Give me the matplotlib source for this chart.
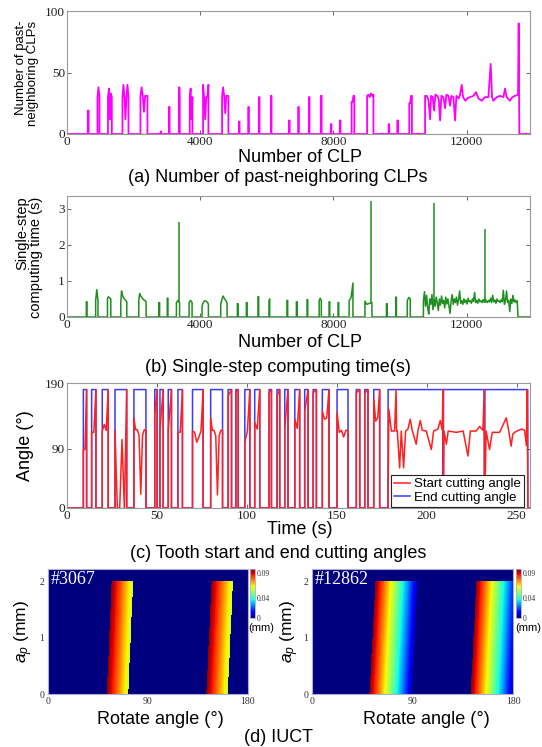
import numpy as np
import matplotlib
matplotlib.use("Agg")
from matplotlib import pyplot as plt

W, H = 542, 747

# (a) number of past-neighboring CLPs: isolated bursts (start, end, levels) + the sustained part
a_start = [625, 915, 1230, 1665, 2205, 2810, 3060, 3360, 3685, 4085, 4655, 5160, 5440, 5760, 6120, 6665, 6940, 7260, 7620, 7920, 8190, 8545, 9010, 9655, 9915, 10275]
a_end = [650, 975, 1345, 1845, 2415, 2830, 3080, 3385, 3765, 4245, 4845, 5180, 5460, 5780, 6140, 6685, 6960, 7280, 7645, 7940, 8210, 8625, 9200, 9675, 9935, 10355]
a_levels = [
    [19, 19], [30, 38, 30], [30, 37, 12, 33, 30], [30, 40, 30, 12, 30, 40, 30],
    [31, 38, 31, 18, 31, 31, 31], [2, 2], [22, 22], [30, 38, 30], [30, 37, 12, 30],
    [40, 30, 12, 30, 30, 40], [31, 38, 31, 17, 31, 31, 31], [10, 10], [22, 22],
    [30, 30], [31, 31], [11, 11], [22, 22], [30, 30], [31, 31], [8, 8], [11, 11],
    [26, 26, 31, 31], [31, 32, 30, 33, 31, 32], [8, 8], [11, 11], [25, 25, 31, 31],
]
a_sus_x = [10750, 10750, 10800, 10850, 10900, 10930, 10980, 11020, 11060, 11120,
           11160, 11200, 11240, 11300, 11350, 11390, 11450, 11500, 11540, 11600,
           11650, 11690, 11760, 11800, 11850, 11890, 11960, 12020, 12100, 12200,
           12280, 12350, 12450, 12550, 12650, 12720, 12760, 12800, 12900, 13000,
           13100, 13150, 13200, 13300, 13370, 13450, 13540, 13560, 13580]
a_sus_y = [0, 31, 31, 28, 12, 31, 30, 19, 32, 31,
           28, 11, 31, 30, 21, 32, 31, 23, 31, 30,
           11, 31, 29, 32, 40, 30, 27, 29, 30, 31,
           34, 29, 27, 30, 30, 57, 30, 27, 30, 31,
           30, 37, 30, 27, 30, 31, 32, 90, 0]

# (b) single-step computing time
b_start = [580, 860, 1215, 1615, 2155, 2760, 3010, 3285, 3665, 4055, 4615, 5115, 5385, 5735, 6065, 6605, 6887, 7207, 7570, 7868, 8138, 8470, 8945, 9590, 9870, 10215]
b_end = [600, 930, 1315, 1795, 2375, 2780, 3030, 3380, 3755, 4245, 4805, 5135, 5405, 5755, 6085, 6625, 6907, 7227, 7635, 7888, 8158, 8585, 9155, 9610, 9890, 10305]
b_levels = [
    [0.42, 0.42], [0.45, 0.76, 0.45], [0.5, 0.56, 0.54, 0.52, 0.5],
    [0.4, 0.72, 0.62, 0.56, 0.52, 0.5, 0.47, 0.45, 0.42],
    [0.45, 0.65, 0.6, 0.56, 0.53, 0.5, 0.48, 0.46, 0.45, 0.42], [0.4, 0.4], [0.52, 0.52],
    [0.4, 0.46, 0.4], [0.4, 0.46, 0.4],
    [0.3, 0.38, 0.42, 0.44, 0.45, 0.44, 0.42, 0.4, 0.35],
    [0.35, 0.45, 0.52, 0.58, 0.54, 0.5, 0.47, 0.44, 0.38],
    [0.37, 0.37], [0.4, 0.4], [0.56, 0.56], [0.45, 0.5], [0.46, 0.46], [0.42, 0.42],
    [0.48, 0.48], [0.45, 0.52, 0.45], [0.42, 0.42], [0.4, 0.4], [0.45, 0.54, 0.94],
    [0.44, 0.35, 0.37, 0.38, 0.4], [0.37, 0.37], [0.55, 0.55], [0.45, 0.54, 0.5],
]
b_sus_start, b_sus_end = 10700, 13516
b_sus_y = [0.45, 0.7, 0.3, 0.6, 0.25, 0.08, 0.5, 0.35, 0.62, 0.2,
           0.48, 0.3, 0.55, 0.4, 0.18, 0.5, 0.33, 0.58, 0.38, 0.46,
           0.25, 0.55, 0.36, 0.5, 0.3, 0.1, 0.45, 0.62, 0.35, 0.5,
           0.4, 0.55, 0.33, 0.48, 0.72, 0.38, 0.45, 0.35, 0.5, 0.4,
           0.47, 0.36, 0.52, 0.42, 0.45, 0.38, 0.5, 0.43, 0.68, 0.4,
           0.46, 0.38, 0.5, 0.42, 0.45, 0.4, 0.48, 0.41, 0.5, 0.44,
           0.4, 0.46, 0.42, 0.52, 0.4, 0.6, 0.42, 0.47, 0.38, 0.5,
           0.43, 0.45, 0.4, 0.48, 0.42, 0.74, 0.35, 0.45, 0.72, 0.4,
           0.46, 0.15, 0.5, 0.38, 0.6, 0.42, 0.47, 0.4, 0.45]
b_spike_x = [3373, 9130, 11021, 12553]
b_spike_y = [2.62, 3.22, 3.15, 2.43]

# (c) tooth start (red) and end (blue) cutting angles
c_start = [9.1, 13.7, 19.6, 26.7, 37.2, 48.8, 51.7, 56.3, 61.7, 69.8, 79.9, 89.6, 93.9,
           98.9, 104.4, 112.4, 116.8, 121.1, 126.7, 132.2, 136.9, 142.0, 150.2, 160.9, 165.6, 170.6]
c_end = [10.9, 16.1, 22.9, 33.2, 43.9, 50.1, 53.5, 58.1, 64.2, 75.7, 86.5, 91.5, 95.2,
         101.7, 107.2, 113.7, 118.3, 122.9, 129.4, 134.1, 138.7, 145.7, 156.3, 162.8, 167.4, 173.9]
c_red_levels = [
    [89, 89, 180], [115, 115, 180], [117, 127, 118, 180], [118, 0, 0, 104, 0, 180],
    [137, 119, 119, 110, 21, 110, 119, 119], [143, 180], [119, 180], [117, 180],
    [115, 115, 180], [117, 115, 100, 108, 117, 180], [137, 118, 118, 110, 20, 110, 118, 118],
    [170, 180], [175, 180], [100, 117, 180], [130, 120, 180], [175, 180], [170, 180],
    [121, 180], [135, 121, 180], [147, 180], [175, 180], [147, 135, 137, 180],
    [145, 115, 118, 108, 118, 118], [175, 180], [175, 180], [165, 132, 137, 180],
]
c_sus_t = [178.5, 179.0, 180.4, 182.2, 183.0, 183.3, 183.7, 185.0, 185.9, 187.2,
           188.3, 189.6, 190.9, 192.0, 194.2, 195.2, 196.5, 197.6, 199.8, 202.6,
           203.9, 206.3, 207.6, 208.7, 209.1, 209.3, 209.7, 211.0, 212.0, 216.6,
           220.3, 223.0, 224.3, 227.6, 229.5, 231.3, 232.1, 232.3, 233.1, 235.0,
           236.5, 240.6, 244.3, 245.7, 247.0, 247.9, 249.0, 251.0, 253.0, 254.5,
           255.5, 256.0, 256.3]
c_sus_red = [0, 150, 117, 117, 180, 117, 117, 61, 117, 61,
             117, 120, 135, 118, 97, 118, 133, 118, 117, 89,
             117, 120, 133, 118, 180, 0, 117, 97, 117, 115,
             117, 79, 117, 117, 124, 118, 180, 0, 117, 89,
             115, 115, 137, 117, 94, 112, 115, 118, 120, 118,
             95, 180, 0]
c_sus_blue_t = [178.5, 178.6, 209.0, 209.1, 209.3, 209.4, 232.0, 232.1, 232.3, 232.4, 256.2, 256.3]
c_sus_blue = [0, 180, 180, 0, 0, 180, 180, 0, 0, 180, 180, 0]

# (d) IUCT bands: left edge at ap=0 / ap=2, band width (deg), value at left / right edge
d_height = 2.0
d1_bottom, d1_top, d1_width, d1_vals = [52.9, 142.6], [57.3, 147.3], 19.3, (0.097, 0.058)
d2_bottom, d2_top, d2_width, d2_vals = [51.1, 141.4], [56.5, 146.5], 38.0, (0.097, 0.004)
d_vmax = 0.098

plt.rcParams['font.family'] = ['Liberation Sans', 'DejaVu Sans']
plt.rcParams['mathtext.fontset'] = 'custom'
plt.rcParams['mathtext.it'] = 'Liberation Sans:italic'
plt.rcParams['mathtext.rm'] = 'Liberation Sans'

SERIF = 'Liberation Serif'
SPINE = '#9a9a9a'


def box(l, t, r, b):
    return [l / W, 1 - b / H, (r - l) / W, (b - t) / H]


def pulses(starts, ends, levels):
    xs, ys = [0.0], [0.0]
    for s, e, lv in zip(starts, ends, levels):
        xs += [s] + list(np.linspace(s, e, len(lv))) + [e]
        ys += [0] + list(lv) + [0]
    return xs, ys


def style(ax, size=9.5):
    for sp in ax.spines.values():
        sp.set_color(SPINE)
        sp.set_linewidth(0.8)
    ax.tick_params(direction='in', length=3, width=0.7, color='#666666',
                   top=True, right=True, labelsize=size, pad=1.5, labelcolor='#222222')
    for lab in ax.get_xticklabels() + ax.get_yticklabels():
        lab.set_family(SERIF)


def ftext(x, y, s, **kw):
    fig.text(x / W, 1 - y / H, s, ha=kw.pop('ha', 'center'), va=kw.pop('va', 'center'), **kw)


fig = plt.figure(figsize=(W / 100, H / 100), dpi=100)

# (a)
ax = fig.add_axes(box(67, 11, 530, 134))
x, y = pulses(a_start, a_end, a_levels)
x += a_sus_x + [13900]
y += a_sus_y + [0]
ax.plot(x, y, color='#ff00ff', lw=1.3)
ax.set_xlim(0, 13900)
ax.set_ylim(0, 100)
ax.set_xticks([0, 4000, 8000, 12000])
ax.set_yticks([0, 50, 100])
style(ax)
ftext(27, 73, "Number of past-\nneighboring CLPs", rotation=90, size=9.5,
      multialignment='right', linespacing=1.0)
ftext(300, 158, "Number of CLP", size=13)
ftext(278, 178, "(a) Number of past-neighboring CLPs", size=13)

# (b)
ax = fig.add_axes(box(67, 196, 530, 317))
x, y = pulses(b_start, b_end, b_levels)
x += [b_sus_start] + list(np.linspace(b_sus_start, b_sus_end, len(b_sus_y))) + [13540, 13900]
y += [0] + b_sus_y + [0, 0]
ax.plot(x, y, color='#1f8f1f', lw=1.1)
ax.vlines(b_spike_x, 0.4, b_spike_y, color='#1f8f1f', lw=1.1)
ax.set_xlim(0, 13900)
ax.set_ylim(0, 3.35)
ax.set_xticks([0, 4000, 8000, 12000])
ax.set_yticks([0, 1, 2, 3])
style(ax)
ftext(29, 257, "Single-step\ncomputing time (s)", rotation=90, size=10.5,
      multialignment='right', linespacing=1.0)
ftext(300, 343, "Number of CLP", size=13)
ftext(278, 367, "(b) Single-step computing time(s)", size=13)

# (c)
ax = fig.add_axes(box(67, 383, 530, 508))
bx, by = pulses(c_start, c_end, [[180, 180]] * len(c_start))
bx += c_sus_blue_t + [258]
by += c_sus_blue + [0]
rx, ry = pulses(c_start, c_end, c_red_levels)
rx += c_sus_t + [258]
ry += c_sus_red + [0]
lb, = ax.plot(bx, by, color='#3a3aff', lw=1.1)
lr, = ax.plot(rx, ry, color='#ff2020', lw=1.1)
ax.set_xlim(0, 257.5)
ax.set_ylim(0, 190)
ax.set_xticks([0, 50, 100, 150, 200, 250])
ax.set_yticks([0, 90, 190])
style(ax)
leg = ax.legend([lr, lb], ["Start cutting angle", "End cutting angle"], loc='lower right',
                bbox_to_anchor=(0.988, 0.008), borderaxespad=0, fontsize=9.5,
                handlelength=1.2, handletextpad=0.3, labelspacing=0.1, borderpad=0.25,
                fancybox=False, framealpha=1)
leg.get_frame().set_edgecolor('#222222')
leg.get_frame().set_linewidth(0.8)
ftext(25, 446, "Angle (°)", rotation=90, size=13)
ftext(300, 529, "Time (s)", size=13)
ftext(278, 553, "(c) Tooth start and end cutting angles", size=13)

# (d)
ang = np.linspace(0, 180, 901)
ap = np.linspace(0, 2.22, 445)
A, P = np.meshgrid(ang, ap)


def iuct(bottom, top, width, vals):
    Z = np.zeros_like(A)
    for b, t in zip(bottom, top):
        L = b + (t - b) * P / d_height
        inside = (A >= L) & (A <= L + width) & (P <= d_height)
        V = vals[0] - (vals[0] - vals[1]) * (A - L) / width
        Z[inside] = V[inside]
    return Z


panels = [
    (box(47.7, 569, 247.5, 694), box(250, 569, 255, 618), iuct(d1_bottom, d1_top, d1_width, d1_vals),
     "#3067", 24, 160, 261.5),
    (box(311.8, 569, 513.3, 694), box(516, 569, 521, 618), iuct(d2_bottom, d2_top, d2_width, d2_vals),
     "#12862", 290, 426, 528),
]
for rect, crect, Z, tag, ylx, xlx, mmx in panels:
    ax = fig.add_axes(rect)
    im = ax.imshow(Z, extent=[0, 180, 0, 2.22], origin='lower', aspect='auto',
                   cmap='jet', vmin=0, vmax=d_vmax, interpolation='nearest')
    ax.set_xticks([0, 90, 180])
    ax.set_yticks([0, 1, 2])
    ax.tick_params(length=0, labelsize=7, pad=2.5, labelcolor='#333333')
    for lab in ax.get_xticklabels() + ax.get_yticklabels():
        lab.set_family(SERIF)
    for sp in ax.spines.values():
        sp.set_color('#aab0cc')
        sp.set_linewidth(0.8)
    ax.text(0.015, 0.985, tag, transform=ax.transAxes, ha='left', va='top',
            color='white', size=13, family=SERIF)
    cax = fig.add_axes(crect)
    cb = fig.colorbar(im, cax=cax, ticks=[0, 0.04, 0.09])
    cb.ax.set_yticklabels(['0', '0.04', '0.09'])
    cb.ax.tick_params(length=0, labelsize=5.5, pad=1.5, labelcolor='#333333')
    for lab in cb.ax.get_yticklabels():
        lab.set_family(SERIF)
    cb.outline.set_edgecolor('#aab0cc')
    cb.outline.set_linewidth(0.6)
    ftext(ylx, 631, r"$a_p$ (mm)", rotation=90, size=12.5)
    ftext(xlx, 719, "Rotate angle (°)", size=13)
    ftext(mmx, 628, "(mm)", size=8)

ftext(278, 737, "(d) IUCT", size=13)

fig.savefig("out.png", dpi=100)
